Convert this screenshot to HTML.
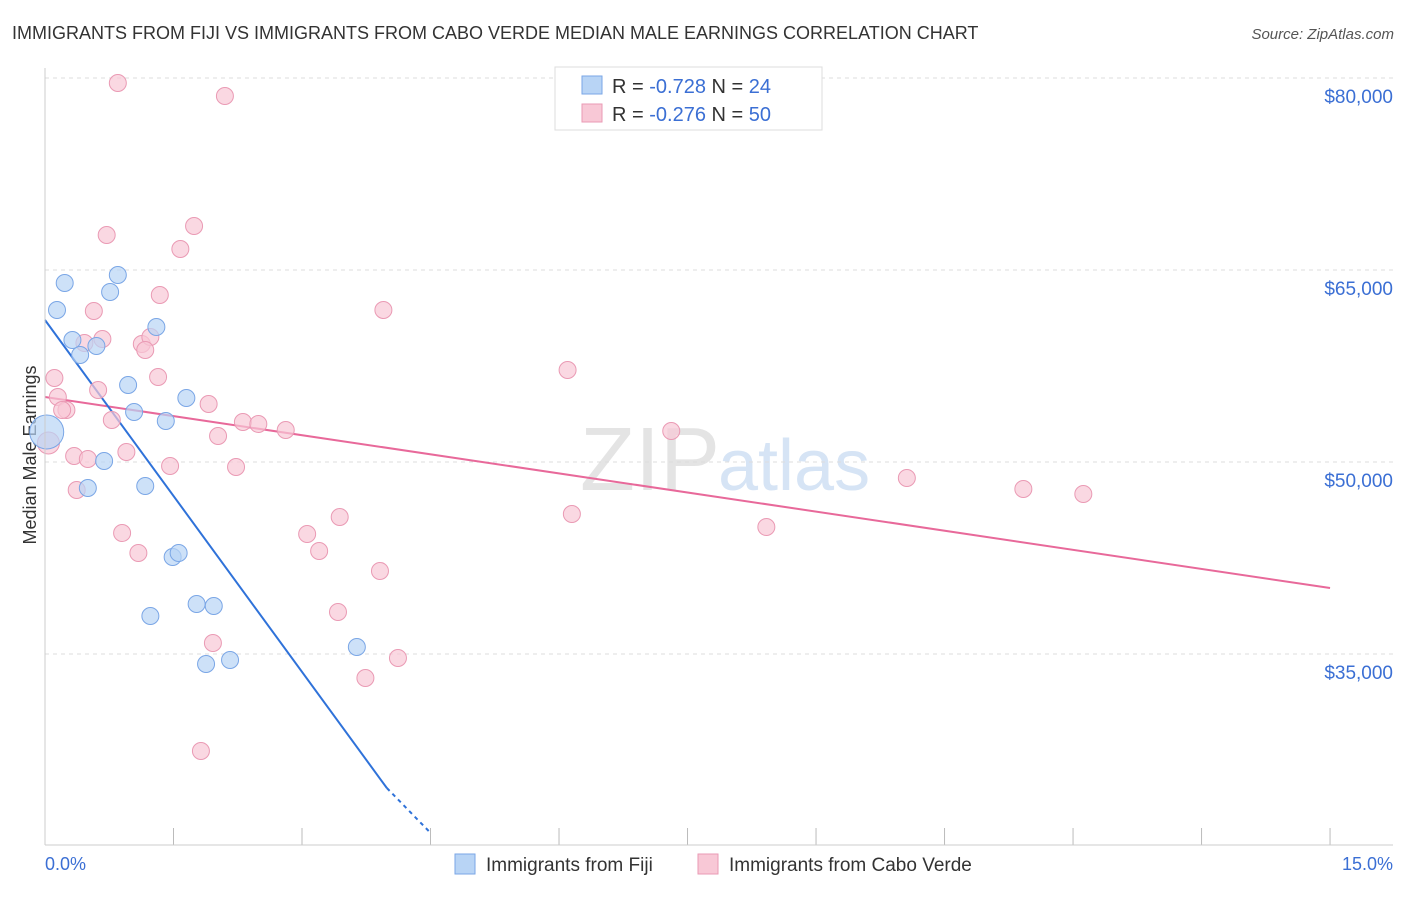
<!DOCTYPE html>
<html><head><meta charset="utf-8"><style>
body{margin:0;background:#fff;font-family:"Liberation Sans",sans-serif;}
svg text{font-family:"Liberation Sans",sans-serif;}
</style></head><body>
<svg id="c" width="1406" height="892">
<text x="12" y="39" font-size="18" fill="#333">IMMIGRANTS FROM FIJI VS IMMIGRANTS FROM CABO VERDE MEDIAN MALE EARNINGS CORRELATION CHART</text>
<text x="1394" y="39" font-size="15" fill="#555" text-anchor="end" font-style="italic">Source: ZipAtlas.com</text>
<text x="36" y="455" font-size="18" fill="#333" text-anchor="middle" transform="rotate(-90 36 455)">Median Male Earnings</text>
<text x="720" y="490" font-size="90" fill="#e4e4e4" text-anchor="end" font-family="Liberation Serif">ZIP</text>
<text x="718" y="490" font-size="72" fill="#d6e4f5">atlas</text>
<g id="grid"></g><g id="ticks"></g><g id="lines"></g><g id="pts"></g>
<line x1="45" y1="68" x2="45" y2="845" stroke="#ccc"/>
<line x1="45" y1="845" x2="1393" y2="845" stroke="#ccc"/>
<text x="45" y="870" font-size="18" fill="#3b6fd4">0.0%</text>
<text x="1393" y="870" font-size="18" fill="#3b6fd4" text-anchor="end">15.0%</text>
<g>
<rect x="555" y="67" width="267" height="63" fill="#fff" stroke="#ddd"/>
<rect x="582" y="76" width="20" height="18" fill="#b8d4f5" stroke="#7aa6e6"/>
<rect x="582" y="104" width="20" height="18" fill="#f8c8d6" stroke="#ea9ab4"/>
<text x="612" y="93" font-size="20" fill="#333">R = <tspan fill="#3b6fd4">-0.728</tspan>   N = <tspan fill="#3b6fd4">24</tspan></text>
<text x="612" y="121" font-size="20" fill="#333">R = <tspan fill="#3b6fd4">-0.276</tspan>   N = <tspan fill="#3b6fd4">50</tspan></text>
</g>
<g>
<rect x="455" y="854" width="20" height="20" fill="#b8d4f5" stroke="#7aa6e6"/>
<text x="486" y="871" font-size="19" fill="#333">Immigrants from Fiji</text>
<rect x="698" y="854" width="20" height="20" fill="#f8c8d6" stroke="#ea9ab4"/>
<text x="729" y="871" font-size="19" fill="#333">Immigrants from Cabo Verde</text>
</g>
</svg>
<script>
const yTicks=[80000,65000,50000,35000];
const yTickLabels=["$80,000","$65,000","$50,000","$35,000"];
const xTicks=[0,1.5,3,4.5,6,7.5,9,10.5,12,13.5,15];
const fijiX=[0.02,0.14,0.23,0.32,0.41,0.50,0.60,0.69,0.76,0.85,0.97,1.04,1.17,1.23,1.30,1.41,1.49,1.56,1.65,1.77,1.88,1.97,2.16,3.64];
const fijiY=[52344,61875,63984,59531,58359,47969,59062,50078,63281,64609,56016,53906,48125,37969,60547,53203,42578,42891,55000,38906,34219,38750,34531,35547];
const caboX=[0.85,2.10,0.72,1.74,1.58,0.57,1.34,3.95,0.67,1.13,1.23,1.17,0.11,1.32,0.62,0.15,0.25,0.78,1.91,2.31,2.49,2.81,2.02,0.34,0.50,0.95,1.46,2.23,6.10,7.31,0.37,10.06,11.42,12.12,6.15,8.42,3.44,3.06,0.90,1.09,3.20,3.91,3.42,1.96,4.12,3.74,1.82,0.04,0.20,0.46];
const caboY=[79609,78594,67734,68438,66641,61797,63047,61875,59609,59219,59766,58750,56563,56641,55625,55078,54063,53281,54531,53125,52969,52500,52031,50469,50234,50781,49688,49609,57188,52422,47813,48750,47891,47500,45938,44922,45703,44375,44453,42891,43047,41484,38281,35859,34688,33125,27422,51484,54063,59297];
const fijiTrend=[[0,61094],[3.99,24531]];
const fijiTrendDash=[[3.99,24531],[4.49,21094]];
const caboTrend=[[0,55078],[15,40156]];
const NS="http://www.w3.org/2000/svg";
const X=v=>45+v*85.67, Y=v=>78+(80000-v)*0.0128;
function mk(t,a,p){const e=document.createElementNS(NS,t);for(const k in a)e.setAttribute(k,a[k]);p.appendChild(e);return e;}
const g=document.getElementById('grid');
yTicks.forEach((t,i)=>{
 const l=mk('line',{x1:45,x2:1393,y1:Y(t),y2:Y(t),stroke:'#ddd','stroke-dasharray':'4,4'},g);
 
 
 const tx=mk('text',{x:1393,y:Y(t)+25,'font-size':19,fill:'#3b6fd4','text-anchor':'end'},g);
 tx.textContent=yTickLabels[i];
 
 
});
const tk=document.getElementById('ticks');
xTicks.slice(1).forEach(t=>{
 const l=mk('line',{x1:X(t),x2:X(t),y1:828,y2:845,stroke:'#bbb'},tk);
 
 
});
const ln=document.getElementById('lines');
function seg(p,col,dash,name){const l=mk('line',{x1:X(p[0][0]),y1:Y(p[0][1]),x2:X(p[1][0]),y2:Y(p[1][1]),stroke:col,'stroke-width':2},ln);if(dash)l.setAttribute('stroke-dasharray',dash);
 
 }
seg(caboTrend,'#e8699a',null,'cabo-verde-trend-line');
seg(fijiTrend,'#2f72d9',null,'fiji-trend-line');
seg(fijiTrendDash,'#2f72d9','4,4','fiji-trend-extension');
const pts=document.getElementById('pts');
caboX.forEach((x,i)=>{
 const c=mk('circle',{cx:X(x),cy:Y(caboY[i]),r:i==47?11:8.5,fill:'#f8c8d6','fill-opacity':0.7,stroke:'#ea9ab4','stroke-width':1},pts);
 
 
});
fijiX.forEach((x,i)=>{
 const c=mk('circle',{cx:X(x),cy:Y(fijiY[i]),r:i==0?17:8.5,fill:'#b8d4f5','fill-opacity':0.7,stroke:'#7aa6e6','stroke-width':1},pts);
 
 
});
</script>
</body></html>
